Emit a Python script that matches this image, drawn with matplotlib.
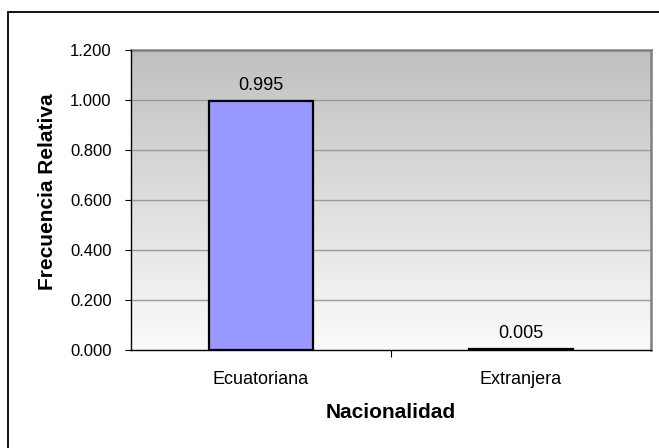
import matplotlib
matplotlib.use("Agg")
import matplotlib.pyplot as plt
import numpy as np
from matplotlib.patches import Rectangle

categories = ["Ecuatoriana", "Extranjera"]
values = [0.995, 0.005]
yticks = [0.0, 0.2, 0.4, 0.6, 0.8, 1.0, 1.2]
ytick_labels = ["0.000", "0.200", "0.400", "0.600", "0.800", "1.000", "1.200"]

plt.rcParams['font.family'] = ['Liberation Sans', 'DejaVu Sans']

W, H = 659, 448
fig = plt.figure(figsize=(W / 100, H / 100), dpi=100)
fig.patch.set_facecolor('white')

# outer frame
frame = Rectangle((8 / W, -0.1), 1.2, (H - 12) / H + 0.1, transform=fig.transFigure,
                  fill=False, edgecolor='#000000', linewidth=1.3, zorder=0)
fig.patches.append(frame)

left, right, top, bottom = 131, 651, 50, 350
ax = fig.add_axes([left / W, 1 - bottom / H, (right - left) / W, (bottom - top) / H])

x = np.arange(len(categories))

# gradient background (dark at top, light at bottom)
grad = np.linspace(192, 251, 256)[:, None] / 255.0
grad_img = np.dstack([grad, grad, grad])
ax.imshow(grad_img, extent=[-0.5, len(categories) - 0.5, 0, 1.2], origin='upper',
          aspect='auto', zorder=0, interpolation='bilinear')
ax.set_xlim(-0.5, len(categories) - 0.5)
ax.set_ylim(0, 1.2)

for yv in yticks[1:-1]:
    ax.axhline(yv, color='#9a9a9a', linewidth=1.0, zorder=1)

bars = ax.bar(x, values, width=0.4, color='#9999FF', edgecolor='black', linewidth=1.6, zorder=3)
for xi, v in zip(x, values):
    ax.text(xi, v + 0.062, f"{v:.3f}", ha='center', va='center', fontsize=13, color='black')

ax.set_yticks(yticks)
ax.set_yticklabels(ytick_labels, fontsize=12)
ax.set_xticks([0.5], minor=False)
ax.set_xticks(x, minor=True)
ax.set_xticklabels([""])
ax.set_xticklabels(categories, minor=True, fontsize=13)
ax.tick_params(axis='x', which='minor', length=0, pad=15)
ax.tick_params(axis='x', which='major', length=5, direction='out', color='black')
ax.tick_params(axis='y', length=4, direction='out', color='black', pad=10)

for s in ['top', 'right']:
    ax.spines[s].set_color('#808080')
    ax.spines[s].set_linewidth(1.8)
for s in ['left', 'bottom']:
    ax.spines[s].set_color('black')
    ax.spines[s].set_linewidth(1.0)
    ax.spines[s].set_zorder(4)

ax.set_ylabel("Frecuencia Relativa", fontsize=15, fontweight='bold')
ax.yaxis.set_label_coords((48 - left) / (right - left), (bottom - 191.5) / (bottom - top))
ax.yaxis.label.set_va('center')
ax.set_xlabel("Nacionalidad", fontsize=15, fontweight='bold')
ax.xaxis.set_label_coords(0.5, (bottom - 412) / (bottom - top))
ax.xaxis.label.set_va('center')

fig.savefig("out.png", dpi=100)
